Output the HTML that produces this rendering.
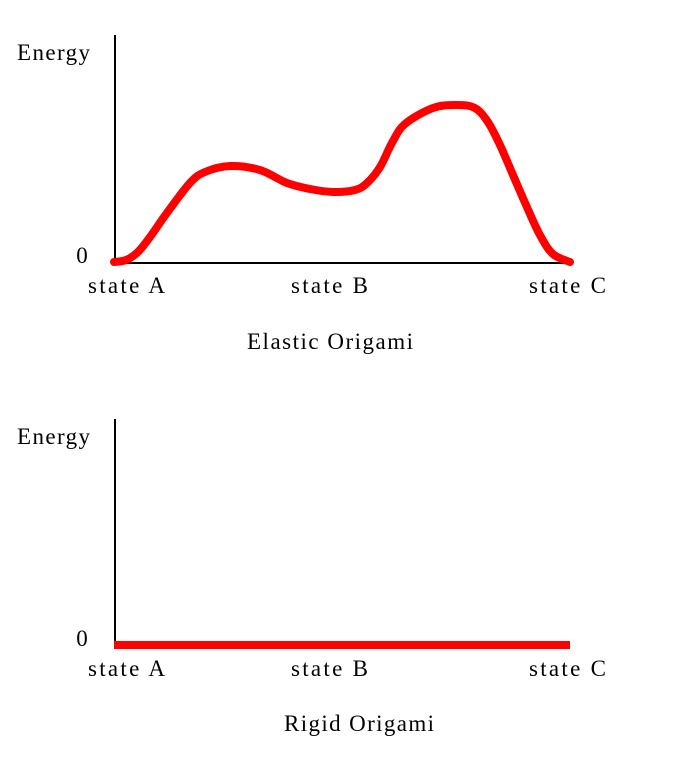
<!DOCTYPE html>
<html><head><meta charset="utf-8"><style>
body{margin:0;background:#fff;width:685px;height:768px;overflow:hidden}
svg text{font-family:"Liberation Serif",serif;font-size:23px;fill:#000}
</style></head><body>
<svg id="c" width="685" height="768">
<g>
<line x1="115" y1="35" x2="115" y2="263" stroke="#000" stroke-width="2"/>
<line x1="114" y1="263" x2="571" y2="263" stroke="#000" stroke-width="2"/>
<text x="17" y="60" textLength="73">Energy</text>
<text x="82" y="263" text-anchor="middle">0</text>
<text x="88" y="293" textLength="77">state A</text>
<text x="291" y="293" textLength="77">state B</text>
<text x="529" y="293" textLength="77">state C</text>
<text x="247" y="349" textLength="166">Elastic Origami</text>
<path id="curve" fill="none" stroke="#f00" stroke-width="8" stroke-linecap="round" stroke-linejoin="round"/>
</g>
<g>
<line x1="115" y1="419" x2="115" y2="646" stroke="#000" stroke-width="2"/>
<text x="17" y="444" textLength="73">Energy</text>
<text x="82" y="646" text-anchor="middle">0</text>
<text x="88" y="676" textLength="77">state A</text>
<text x="291" y="676" textLength="77">state B</text>
<text x="529" y="676" textLength="77">state C</text>
<text x="284" y="731" textLength="150">Rigid Origami</text>
<path id="flat" fill="none" stroke="#f00" stroke-width="8"/>
</g>
</svg>
<script>
const elasticX=[0,0.053,0.105,0.158,0.232,0.333,0.399,0.509,0.640,0.759,0.860,0.961,1.057,1.110,1.167,1.219,1.276,1.399,1.504,1.583,1.640,1.693,1.750,1.811,1.868,1.925,2];
const elasticE=[0,2,10,25,49,79,90,96,92,79,73,70,72,79,95,119,138,154,157,154,140,117,87,55,27,8,0];
const rigidX=[0,2];
const rigidE=[0,0];
function sx(v){return 114+v*228;}
function syTop(e){return 262-e;}
function syBot(e){return 645-e;}
function smooth(pts){
  let d='M'+pts[0][0]+','+pts[0][1];
  for(let i=0;i<pts.length-1;i++){
    const p0=pts[Math.max(i-1,0)],p1=pts[i],p2=pts[i+1],p3=pts[Math.min(i+2,pts.length-1)];
    const c1x=p1[0]+(p2[0]-p0[0])/6,c1y=p1[1]+(p2[1]-p0[1])/6;
    const c2x=p2[0]-(p3[0]-p1[0])/6,c2y=p2[1]-(p3[1]-p1[1])/6;
    d+=' C'+c1x+','+c1y+' '+c2x+','+c2y+' '+p2[0]+','+p2[1];
  }
  return d;
}
document.getElementById('curve').setAttribute('d',smooth(elasticX.map((x,i)=>[sx(x),syTop(elasticE[i])])));
document.getElementById('flat').setAttribute('d','M'+rigidX.map((x,i)=>sx(x)+','+syBot(rigidE[i])).join(' L'));
</script>
</body></html>
